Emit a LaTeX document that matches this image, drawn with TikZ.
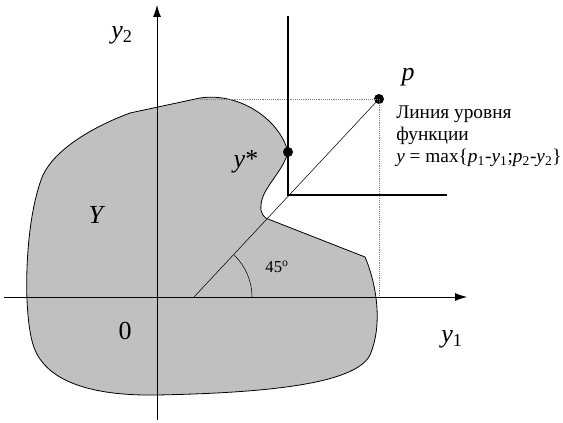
\documentclass[tikz,border=0pt]{standalone}
\usepackage{fontspec}
\setmainfont{Liberation Serif}
\usetikzlibrary{arrows.meta}
\definecolor{setgray}{RGB}{192,192,192}

\begin{document}
\begin{tikzpicture}[x=0.75pt,y=-0.75pt,
  axis/.style={-{Latex[length=9pt,width=6pt]}, line width=0.6pt},
  level/.style={line width=1.4pt},
  guide/.style={densely dotted, line width=0.4pt, gray},
  dot/.style={circle, fill=black, inner sep=0pt, minimum size=7.5pt},
  lbl/.style={font=\fontsize{19.5}{22}\selectfont, inner sep=0pt},
  note/.style={font=\fontsize{14.5}{16.5}\selectfont, align=left, inner sep=0pt, anchor=north west}
]
\useasboundingbox (0,0) rectangle (563,423);

% Set Y
\filldraw[fill=setgray, draw=black, line width=0.6pt]
  (200,98) .. controls (240,92) and (280,120) .. (288,152)
  .. controls (283,172) and (262,188) .. (261,205)
  .. controls (260,213) and (264,218) .. (268,219)
  -- (365,257)
  .. controls (375,280) and (384,322) .. (370,355)
  .. controls (355,385) and (260,393) .. (157,395)
  .. controls (100,396) and (50,385) .. (35,350)
  .. controls (22,320) and (24,220) .. (43,175)
  .. controls (55,150) and (90,128) .. (130,113)
  -- cycle;

% Axes
\coordinate (xs) at (4,297);
\coordinate (xe) at (467,297);
\coordinate (ys) at (157,420);
\coordinate (ye) at (157,5);
\draw[axis] (xs) -- (xe);
\draw[axis] (ys) -- (ye);

% Points
\coordinate (c) at (194,297);
\coordinate (top) at (200,99);
\coordinate (foot) at (379,297);
\node[dot] (p) at (379,99) {};
\node[dot] (ystar) at (288,152) {};

% Guides
\draw[guide] (top) -- (p.center) -- (foot);
\draw[line width=0.4pt] (c) -- (p.center);
\draw[line width=0.4pt] ([shift={(0:58)}]c) arc[start angle=0, end angle=-46, radius=58];

% Level line
\coordinate (lt) at (288,16);
\coordinate (lc) at (288,195);
\coordinate (lr) at (447,195);
\draw[level] (lt) -- (lc) -- (lr);

% Labels
\node[lbl] (ly2) at (122,35) {\textit{y}\textsubscript{2}};
\node[lbl] (ly1) at (452,339) {\textit{y}\textsubscript{1}};
\node[lbl] (lp) at (408,77) {\textit{p}};
\node[lbl] (lY) at (97,215) {\textit{Y}};
\node[lbl] (l0) at (125,331) {0};
\node[lbl] (lys) at (246,162) {\textit{y}*};
\node[lbl, font=\fontsize{12.5}{14}\selectfont] (lang) at (277,267) {45\textsuperscript{o}};
\node[note] (txt) at (396,106) {Линия уровня\\функции\\\textit{y} = max\{\textit{p}\textsubscript{1}-\textit{y}\textsubscript{1};\textit{p}\textsubscript{2}-\textit{y}\textsubscript{2}\}};
\end{tikzpicture}
\end{document}
